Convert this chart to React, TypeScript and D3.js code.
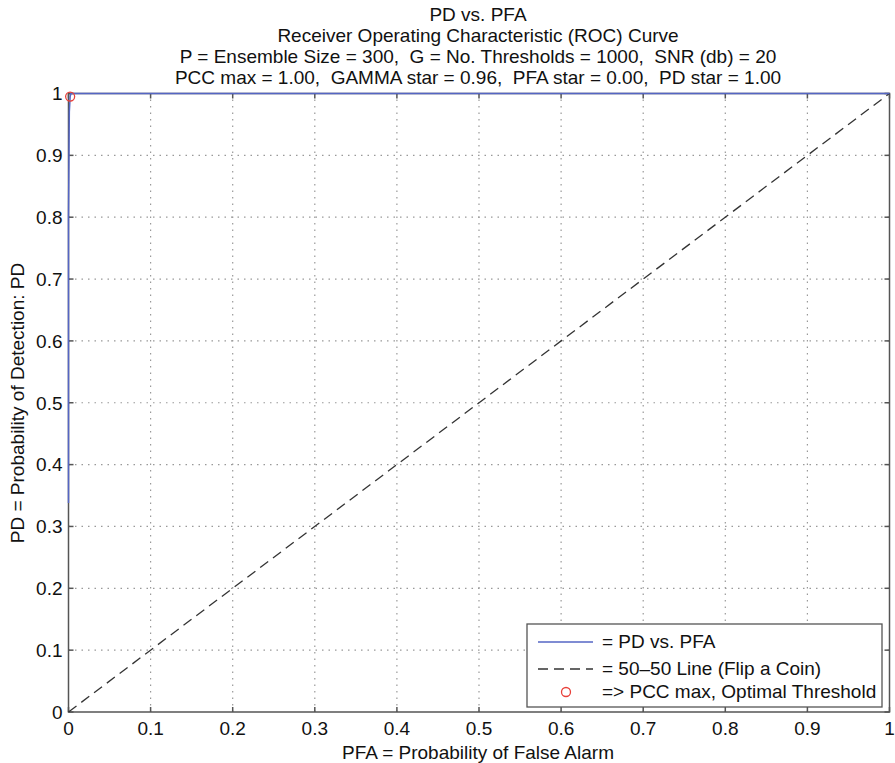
import React from "react";
import * as d3 from "d3";

const titleLines = [
  "PD vs. PFA",
  "Receiver Operating Characteristic (ROC) Curve",
  "P = Ensemble Size = 300,  G = No. Thresholds = 1000,  SNR (db) = 20",
  "PCC max = 1.00,  GAMMA star = 0.96,  PFA star = 0.00,  PD star = 1.00",
];
const xTicks = [0, 0.1, 0.2, 0.3, 0.4, 0.5, 0.6, 0.7, 0.8, 0.9, 1];
const yTicks = [0, 0.1, 0.2, 0.3, 0.4, 0.5, 0.6, 0.7, 0.8, 0.9, 1];
const rocPFA = [0, 0, 0.001, 0.002, 0.003, 0.2, 0.5, 0.8, 1];
const rocPD = [0.338, 0.8, 0.97, 0.995, 1, 1, 1, 1, 1];
const coinPFA = [0, 1];
const coinPD = [0, 1];
const optPFA = [0.002];
const optPD = [0.995];
const legendLabels = ["= PD vs. PFA", "= 50\u201350 Line (Flip a Coin)", "=> PCC max, Optimal Threshold"];

const W = 895, H = 763;
const X0 = 68.5, X1 = 889.5, Y0 = 712, Y1 = 93.5;
const FONT = "'Liberation Sans', Arial, Helvetica, sans-serif";
const AX = "#555";
const BLUE = "#5566c4";
const FS = 19;

export default function App() {
  const x = d3.scaleLinear().domain([0, 1]).range([X0, X1]);
  const y = d3.scaleLinear().domain([0, 1]).range([Y0, Y1]);
  const line = d3.line<[number, number]>().x(d => x(d[0])).y(d => y(d[1]));
  const roc: [number, number][] = rocPFA.map((v, i) => [v, rocPD[i]]);
  const coin: [number, number][] = coinPFA.map((v, i) => [v, coinPD[i]]);
  const tl = 5;
  return (
    <svg width={W} height={H} style={{ position: "absolute", left: 0, top: 0, background: "#fff" }} fontFamily={FONT}>
      <rect width={W} height={H} fill="#fff" />
      {titleLines.map((t, i) => (
        <text key={i} x={478} y={20.5 + i * 21.2} fontSize={FS} textAnchor="middle" fill="#111" style={{ whiteSpace: "pre" }}>{t}</text>
      ))}
      {/* grid */}
      {xTicks.slice(1, -1).map(t => (
        <line key={"gx" + t} x1={x(t)} x2={x(t)} y1={Y0} y2={Y1} stroke="#999" strokeWidth={1.2} strokeDasharray="1.5,5" />
      ))}
      {yTicks.slice(1, -1).map(t => (
        <line key={"gy" + t} y1={y(t)} y2={y(t)} x1={X0} x2={X1} stroke="#999" strokeWidth={1.2} strokeDasharray="1.5,5" />
      ))}
      {/* axes box */}
      <rect x={X0} y={Y1} width={X1 - X0} height={Y0 - Y1} fill="none" stroke={AX} strokeWidth={1.5} />
      {xTicks.map(t => (
        <g key={"tx" + t}>
          <line x1={x(t)} x2={x(t)} y1={Y0} y2={Y0 - tl} stroke={AX} strokeWidth={1.5} />
          <line x1={x(t)} x2={x(t)} y1={Y1} y2={Y1 + tl} stroke={AX} strokeWidth={1.5} />
          <text x={x(t)} y={Y0 + 22.5} fontSize={FS} textAnchor="middle" fill="#111">{d3.format("")(t)}</text>
        </g>
      ))}
      {yTicks.map(t => (
        <g key={"ty" + t}>
          <line y1={y(t)} y2={y(t)} x1={X0} x2={X0 + tl} stroke={AX} strokeWidth={1.5} />
          <line y1={y(t)} y2={y(t)} x1={X1} x2={X1 - tl} stroke={AX} strokeWidth={1.5} />
          <text x={X0 - 6} y={y(t) + 6.8} fontSize={FS} textAnchor="end" fill="#111">{d3.format("")(t)}</text>
        </g>
      ))}
      <text x={478} y={759} fontSize={FS} textAnchor="middle" fill="#111">PFA = Probability of False Alarm</text>
      <text transform={`translate(24,403) rotate(-90)`} fontSize={FS} textAnchor="middle" fill="#111">PD = Probability of Detection: PD</text>
      {/* data */}
      <path d={line(coin) || ""} fill="none" stroke="#333" strokeWidth={1.3} strokeDasharray="10,6" />
      <path d={line(roc) || ""} fill="none" stroke={BLUE} strokeWidth={1.5} />
      {optPFA.map((v, i) => (
        <circle key={i} cx={x(v)} cy={y(optPD[i])} r={4.5} fill="none" stroke="#e8403a" strokeWidth={1.3} />
      ))}
      {/* legend */}
      <g>
        <rect x={527} y={624} width={355} height={83} fill="#fff" stroke={AX} strokeWidth={1.3} />
        <line x1={538} x2={593} y1={642} y2={642} stroke={BLUE} strokeWidth={1.5} />
        <line x1={538} x2={593} y1={669} y2={669} stroke="#333" strokeWidth={1.3} strokeDasharray="10,6" />
        <circle cx={566} cy={692} r={4.5} fill="none" stroke="#e8403a" strokeWidth={1.3} />
        {legendLabels.map((s, i) => (
          <text key={i} x={602} y={[648, 675, 698][i]} fontSize={FS} fill="#111">{s}</text>
        ))}
      </g>
    </svg>
  );
}
